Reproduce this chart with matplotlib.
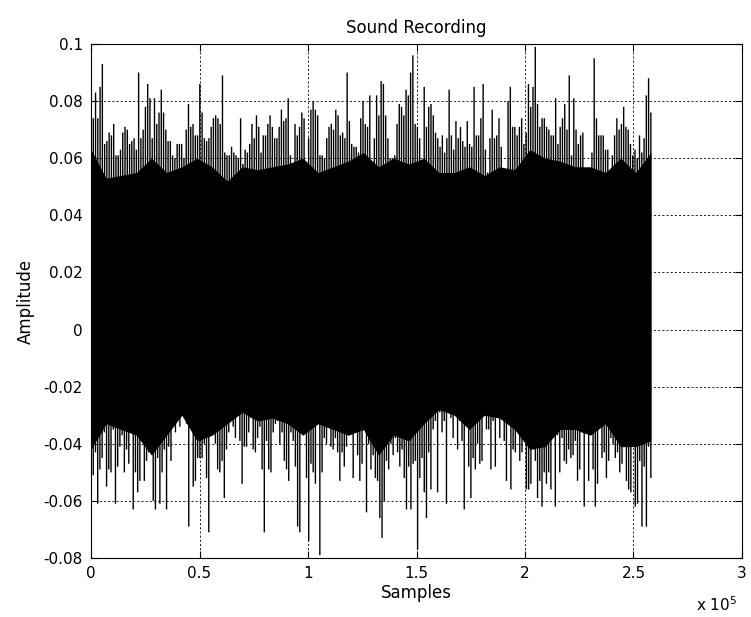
import numpy as np
import matplotlib.pyplot as plt

# number of samples in the recording
n_samples = 258000

# spike tips above the body (read left to right, evenly spaced)
upper_peaks = [
    0.071, 0.074, 0.083, 0.074, 0.085, 0.093, 0.065, 0.066, 0.069, 0.068, 0.072, 0.061, 0.061, 0.063,
    0.069, 0.071, 0.070, 0.065, 0.066, 0.067, 0.063, 0.090, 0.067, 0.070, 0.078, 0.086, 0.081, 0.067,
    0.081, 0.072, 0.076, 0.084, 0.076, 0.070, 0.066, 0.066, 0.061, 0.060, 0.065, 0.065, 0.065, 0.060,
    0.070, 0.079, 0.071, 0.072, 0.068, 0.068, 0.086, 0.076, 0.067, 0.066, 0.067, 0.071, 0.074, 0.075,
    0.074, 0.072, 0.089, 0.062, 0.061, 0.061, 0.064, 0.062, 0.061, 0.060, 0.074, 0.058, 0.063, 0.062,
    0.065, 0.072, 0.067, 0.075, 0.071, 0.062, 0.068, 0.068, 0.072, 0.075, 0.071, 0.067, 0.067,
    0.071, 0.077, 0.073, 0.074, 0.081, 0.061, 0.058, 0.072, 0.068, 0.071, 0.076, 0.074, 0.055, 0.067,
    0.077, 0.080, 0.077, 0.075, 0.061, 0.061, 0.060, 0.067, 0.071, 0.072, 0.070, 0.077, 0.075, 0.068,
    0.069, 0.067, 0.090, 0.073, 0.065, 0.064, 0.064, 0.062, 0.074, 0.080, 0.072, 0.071, 0.082, 0.057,
    0.067, 0.082, 0.075, 0.087, 0.086, 0.075, 0.067, 0.060, 0.060, 0.061, 0.072, 0.079, 0.078, 0.075,
    0.084, 0.082, 0.090, 0.096, 0.072, 0.071, 0.067, 0.056, 0.085, 0.071, 0.078, 0.079, 0.075, 0.069,
    0.067, 0.064, 0.068, 0.062, 0.067, 0.084, 0.068, 0.063, 0.073, 0.067, 0.071, 0.066, 0.064, 0.073,
    0.065,
    0.064, 0.085, 0.068, 0.068, 0.074, 0.086, 0.063, 0.055, 0.067, 0.077, 0.067, 0.068, 0.074, 0.064,
    0.056, 0.055, 0.080, 0.085, 0.071, 0.071, 0.068, 0.071, 0.074, 0.065, 0.069, 0.086, 0.078, 0.085,
    0.099, 0.079, 0.071, 0.074, 0.074, 0.071, 0.070, 0.068, 0.068, 0.081, 0.065, 0.071, 0.074, 0.079,
    0.070, 0.089, 0.061, 0.081, 0.070, 0.065, 0.068, 0.069, 0.055, 0.055, 0.055, 0.062, 0.095, 0.074,
    0.068, 0.068, 0.068, 0.063, 0.063, 0.055, 0.061, 0.068, 0.074, 0.070, 0.072, 0.078, 0.071, 0.070,
    0.065, 0.061, 0.063, 0.060, 0.068, 0.062, 0.067, 0.082, 0.088, 0.076,
]

# spike tips below the body
lower_peaks = [
    -0.052, -0.051, -0.043, -0.061, -0.049, -0.045, -0.036, -0.055, -0.049, -0.050, -0.035, -0.061,
    -0.048, -0.041, -0.037, -0.050, -0.042, -0.047, -0.036, -0.063, -0.050, -0.057, -0.053, -0.036,
    -0.053, -0.046, -0.043, -0.035, -0.060, -0.063, -0.045, -0.061, -0.050, -0.042, -0.063, -0.041,
    -0.046, -0.031, -0.036, -0.027, -0.034, -0.029, -0.028, -0.033, -0.069, -0.031, -0.055, -0.053,
    -0.045, -0.045, -0.045, -0.040, -0.052, -0.071, -0.036, -0.036, -0.040, -0.049, -0.050, -0.046,
    -0.059, -0.042, -0.036, -0.030, -0.034, -0.038, -0.027, -0.039, -0.054, -0.041, -0.041, -0.036,
    -0.031, -0.042, -0.043, -0.038, -0.034, -0.049, -0.071, -0.039, -0.049, -0.050,
    -0.036, -0.033, -0.032, -0.040, -0.036, -0.046, -0.049, -0.053, -0.036, -0.039, -0.048, -0.069,
    -0.071, -0.033, -0.034, -0.052, -0.074, -0.047, -0.050, -0.054, -0.032, -0.079, -0.050, -0.038,
    -0.040, -0.033, -0.041, -0.042, -0.038, -0.043, -0.053, -0.043, -0.048, -0.041, -0.035, -0.036,
    -0.052, -0.033, -0.044, -0.053, -0.047, -0.028, -0.064, -0.040, -0.049, -0.044, -0.052, -0.053,
    -0.066, -0.073, -0.060, -0.046, -0.049, -0.040, -0.044, -0.038, -0.043, -0.048, -0.042, -0.052,
    -0.063, -0.048, -0.063, -0.047, -0.046, -0.077, -0.052, -0.045, -0.057, -0.066, -0.043, -0.056,
    -0.035, -0.032, -0.057, -0.029, -0.036, -0.032, -0.061, -0.029, -0.031, -0.038, -0.029, -0.042,
    -0.032, -0.039, -0.063, -0.032,
    -0.048, -0.059, -0.045, -0.049, -0.040, -0.047, -0.046, -0.026, -0.035, -0.035, -0.049, -0.032,
    -0.048, -0.025, -0.038, -0.030, -0.039, -0.053, -0.032, -0.056, -0.042, -0.043, -0.031, -0.046,
    -0.043, -0.036, -0.056, -0.056, -0.054, -0.039, -0.046, -0.059, -0.053, -0.062, -0.050, -0.054,
    -0.050, -0.056, -0.036, -0.062, -0.037, -0.050, -0.038, -0.046, -0.047, -0.042, -0.045, -0.044,
    -0.039, -0.053, -0.049, -0.036, -0.062, -0.036, -0.053, -0.035, -0.049, -0.062, -0.054, -0.034,
    -0.045, -0.043, -0.052, -0.046, -0.038, -0.040, -0.045, -0.043, -0.050, -0.047, -0.034, -0.053,
    -0.056, -0.057, -0.027, -0.062, -0.061, -0.046, -0.069, -0.048, -0.069, -0.041, -0.052,
]

# solid part of the waveform (top and bottom edge)
core_top = [
    0.063, 0.053, 0.054, 0.055, 0.060, 0.055, 0.057, 0.060, 0.057, 0.052, 0.057, 0.056,
    0.057, 0.058, 0.060, 0.055, 0.057, 0.059, 0.062, 0.057, 0.060, 0.058, 0.060, 0.055, 0.055,
    0.057, 0.054, 0.057, 0.056, 0.063, 0.060, 0.059, 0.057, 0.057, 0.055, 0.060, 0.055, 0.062,
]
core_bottom = [
    -0.042, -0.033, -0.035, -0.037, -0.044, -0.037, -0.030, -0.039, -0.037, -0.033, -0.029, -0.032,
    -0.031, -0.033, -0.037, -0.033, -0.035, -0.037, -0.035, -0.044, -0.037, -0.039, -0.033, -0.028,
    -0.030,
    -0.035, -0.030, -0.031, -0.035, -0.042, -0.041, -0.035, -0.035, -0.037, -0.033, -0.041, -0.041,
    -0.039,
]

x_ticks = [0, 50000, 100000, 150000, 200000, 250000, 300000]
x_labels = ["0", "0.5", "1", "1.5", "2", "2.5", "3"]
y_ticks = [-0.08, -0.06, -0.04, -0.02, 0, 0.02, 0.04, 0.06, 0.08, 0.1]
y_labels = ["-0.08", "-0.06", "-0.04", "-0.02", "0", "0.02", "0.04", "0.06", "0.08", "0.1"]

plt.rcParams['font.family'] = ['DejaVu Sans']
plt.rcParams['mathtext.default'] = 'regular'

fig = plt.figure(figsize=(7.51, 6.17), dpi=100)
ax = fig.add_axes([0.1212, 0.0956, 0.8668, 0.8331])

x_up = np.linspace(0, n_samples, len(upper_peaks))
x_lo = np.linspace(0, n_samples, len(lower_peaks))
x_core = np.linspace(0, n_samples, len(core_top))

ax.fill_between(x_core, core_bottom, core_top, color='k', lw=0, zorder=2)
ax.vlines(x_up, 0.015, upper_peaks, color='k', lw=1.0, zorder=2, snap=False)
ax.vlines(x_lo, 0.015, lower_peaks, color='k', lw=1.0, zorder=2, snap=False)

ax.set_xlim(0, 300000)
ax.set_ylim(-0.08, 0.1)
ax.set_xticks(x_ticks)
ax.set_xticklabels(x_labels)
ax.set_yticks(y_ticks)
ax.set_yticklabels(y_labels)
ax.tick_params(direction='in', top=True, right=True, length=5, labelsize=11, pad=6)
ax.grid(True, color='k', linestyle=(0, (2.5, 2.5)), lw=0.6)

ax.set_title("Sound Recording", fontsize=12, pad=8)
ax.set_xlabel("Samples", fontsize=12, labelpad=2)
ax.set_ylabel("Amplitude", fontsize=12, labelpad=6)
ax.text(0.993, -0.072, r'x 10$^5$', transform=ax.transAxes, ha='right', va='top', fontsize=11)

for s in ax.spines.values():
    s.set_linewidth(0.8)

fig.savefig("out.png", dpi=100)
